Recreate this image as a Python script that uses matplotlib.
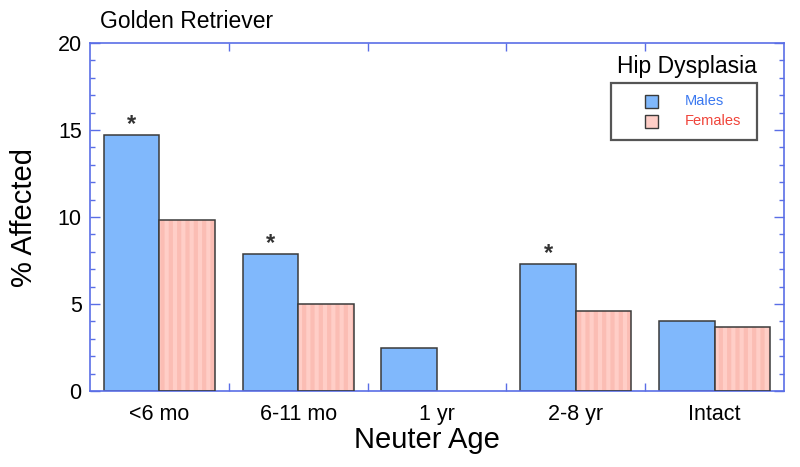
import matplotlib
matplotlib.use("Agg")
import matplotlib.pyplot as plt
from matplotlib.patches import Rectangle
import numpy as np

plt.rcParams['font.family'] = ['Liberation Sans', 'DejaVu Sans']
plt.rcParams['hatch.linewidth'] = 3

# data
ages = ['<6 mo', '6-11 mo', '1 yr', '2-8 yr', 'Intact']
males = [14.7, 7.9, 2.5, 7.3, 4.0]
females = [9.8, 5.0, 0.0, 4.6, 3.7]
male_signif = [True, True, False, True, False]
series_names = ['Males', 'Females']

blue = '#80b8fc'
pink = '#ffcec7'
stripe = '#fbbdb4'
edge = '#3a3a3a'
axis_blue = '#5a6ee6'

fig = plt.figure(figsize=(8, 4.67), dpi=100)
ax = fig.add_axes([0.1125, 0.1627, 0.8675, 0.7452])

x = np.arange(len(ages))
w = 0.4
ax.bar(x - w / 2, males, w, color=blue, edgecolor=edge, linewidth=1.1, zorder=2)
# striped female bars: hatch first, outline on top (no outline for empty bars)
ax.bar(x + w / 2, females, w, color=pink, edgecolor=stripe, hatch='||', linewidth=0, zorder=2)
ax.bar(x + w / 2, females, w, fill=False, edgecolor=edge,
       linewidth=[1.1 if v > 0 else 0 for v in females], zorder=3)

for xi, v, s in zip(x, males, male_signif):
    if s:
        ax.text(xi - w / 2, v + 0.6, '*', ha='center', va='center', fontsize=17,
                fontweight='bold', color='#333333')

ax.set_xlim(-0.5, len(ages) - 0.5)
ax.set_ylim(0, 20)
ax.set_yticks([0, 5, 10, 15, 20])
ax.set_yticks(np.arange(0, 21, 1), minor=True)
ax.set_xticks(x)
ax.set_xticklabels(ages)
ax.set_xticks(x[:-1] + 0.5, minor=True)

for sp in ax.spines.values():
    sp.set_color(axis_blue)
    sp.set_linewidth(1.2)

ax.tick_params(axis='y', which='both', direction='in', right=True, color=axis_blue, labelsize=15.5, pad=6)
ax.tick_params(axis='y', which='major', length=7, width=1)
ax.tick_params(axis='y', which='minor', length=3.5, width=1)
ax.tick_params(axis='x', which='major', length=0, labelsize=15.5, pad=9)
ax.tick_params(axis='x', which='minor', direction='in', top=True, length=6, width=1, color=axis_blue)

ax.set_xlabel('Neuter Age', fontsize=21, labelpad=4)
ax.xaxis.set_label_coords(0.486, -0.1)
ax.xaxis.label.set_va('top')
ax.set_ylabel('% Affected', fontsize=21, labelpad=14)

fig.text(0.125, 0.953, 'Golden Retriever', fontsize=16.5, ha='left', va='center')

# legend drawn by hand to match the boxed layout
fig.text(687 / 800, 1 - 67 / 467, 'Hip Dysplasia', fontsize=16.5, ha='center', va='center')
fig.patches.append(Rectangle((611 / 800, 1 - 140 / 467), 146 / 800, 57 / 467,
                             transform=fig.transFigure, fill=False, edgecolor='#555555', linewidth=1.6))
leg_y = [101, 121]
leg_face = [blue, pink]
leg_text = ['#3a78f0', '#f0443a']
for name, yy, fc, tc in zip(series_names, leg_y, leg_face, leg_text):
    fig.patches.append(Rectangle((645 / 800, 1 - (yy + 6.5) / 467), 13 / 800, 13 / 467,
                                 transform=fig.transFigure, facecolor=fc, edgecolor=edge, linewidth=1))
    fig.text(685 / 800, 1 - yy / 467, name, fontsize=10.5, color=tc, ha='left', va='center')

fig.savefig('out.png', dpi=100)
